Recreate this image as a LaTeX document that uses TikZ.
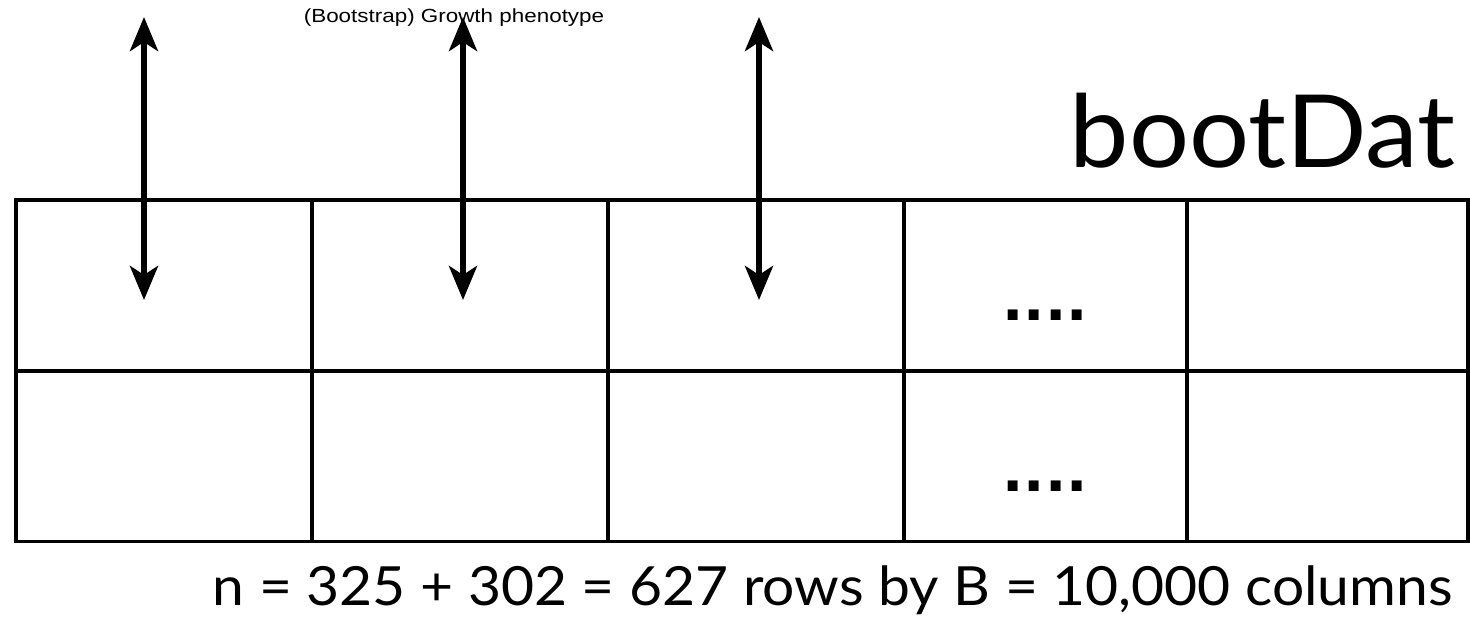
\documentclass[tikz,border=0pt]{standalone}
\usepackage{fontspec}
\setmainfont{Lato}
\newfontfamily\helv{Liberation Sans}
\newfontfamily\dotfont{DejaVu Sans}
\usetikzlibrary{arrows.meta}
\begin{document}
\begin{tikzpicture}[x=1pt,y=-1pt,
  cell/.style={draw=black,line width=3.6pt,inner sep=0pt,minimum height=171pt},
  dbl/.style={line width=6pt,{Stealth[length=34pt,width=28pt,inset=9pt]}-{Stealth[length=34pt,width=28pt,inset=9pt]}},
  dots/.style={font=\dotfont\bfseries\fontsize{56}{56}\selectfont,inner sep=0pt,anchor=base}]
\useasboundingbox (0,0) rectangle (1470,618);
% cells: columns [16,312],[312,608],[608,904],[904,1187],[1187,1468]
\foreach \r/\y in {1/285.5,2/456}{
  \node[cell,minimum width=296pt] (c\r1) at (164,\y) {};
  \node[cell,minimum width=296pt] (c\r2) at (460,\y) {};
  \node[cell,minimum width=296pt] (c\r3) at (756,\y) {};
  \node[cell,minimum width=283pt] (c\r4) at (1045.5,\y) {};
  \node[cell,minimum width=281pt] (c\r5) at (1327.5,\y) {};
}
\node[dots] (d1) at (1045,320) {....};
\node[dots] (d2) at (1045,491) {....};
% arrows
\coordinate (t1) at (144,17); \coordinate (b1) at (144,300);
\coordinate (t2) at (463,17); \coordinate (b2) at (463,300);
\coordinate (t3) at (759,17); \coordinate (b3) at (759,300);
\draw[dbl] (t1) -- (b1);
\draw[dbl] (t2) -- (b2);
\draw[dbl] (t3) -- (b3);
% labels
\node[font=\helv\fontsize{19}{19}\selectfont,inner sep=0pt,anchor=base] (lab) at (454,23) {\scalebox{1.18}[1]{(Bootstrap) Growth phenotype}};
\node[font=\fontsize{101}{101}\selectfont,inner sep=0pt,anchor=base east] (title) at (1456,167) {\scalebox{1.05}[1]{bootDat}};
\node[font=\fontsize{54}{54}\selectfont,inner sep=0pt,anchor=base east] (info) at (1453,605) {\scalebox{1.055}[1]{n = 325 + 302 = 627 rows by B = 10,000 columns}};
\end{tikzpicture}
\end{document}
